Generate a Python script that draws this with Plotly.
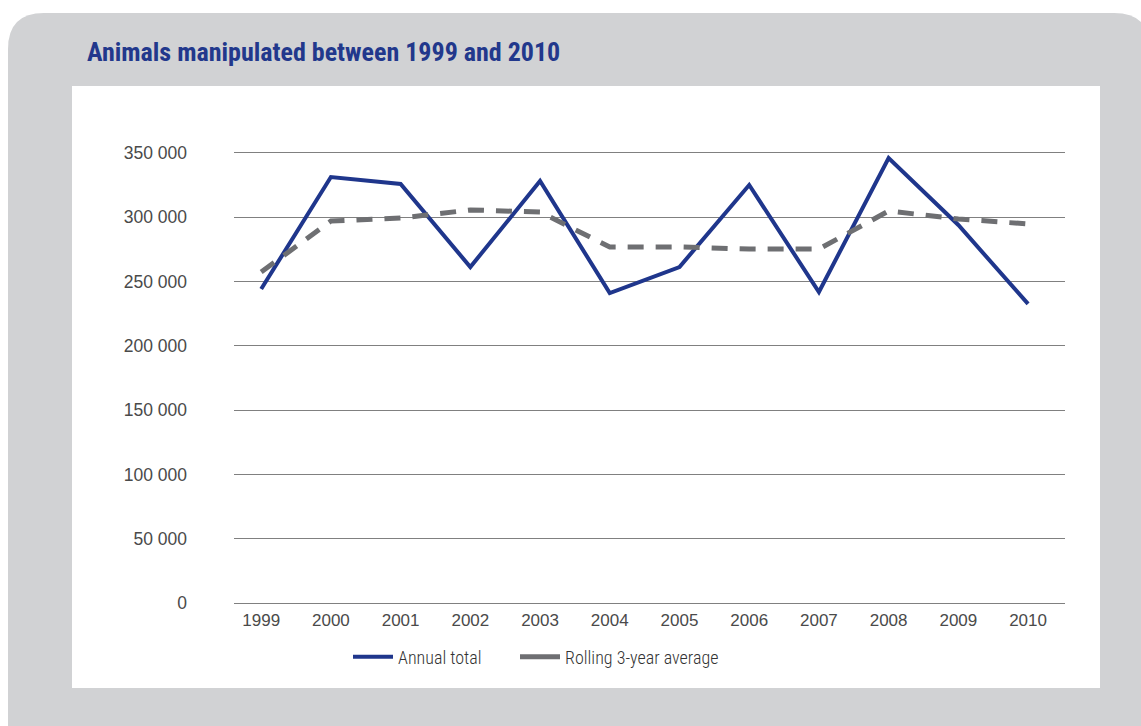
import plotly.graph_objects as go

years = ["1999", "2000", "2001", "2002", "2003", "2004", "2005", "2006", "2007", "2008", "2009", "2010"]
annual_total = [244200, 331300, 325900, 261300, 328200, 241100, 261300, 325100, 241900, 346100, 294000, 232600]
rolling_avg = [257400, 297100, 299400, 305700, 304100, 276900, 276900, 275300, 275300, 304900, 298700, 294800]
y_ticks = [0, 50000, 100000, 150000, 200000, 250000, 300000, 350000]
y_tick_text = ["0", "50 000", "100 000", "150 000", "200 000", "250 000", "300 000", "350 000"]

W, H = 1141, 726
BLUE = "#1f368c"
GREY = "#6e6f72"


def px(x):
    return x / W


def py(y):
    return 1 - y / H


fig = go.Figure()
fig.add_trace(go.Scatter(
    x=list(range(len(years))), y=annual_total, name="Annual total", mode="lines",
    line=dict(color=BLUE, width=4), legend="legend"))
fig.add_trace(go.Scatter(
    x=list(range(len(years))), y=rolling_avg, name="Rolling 3-year average", mode="lines",
    line=dict(color=GREY, width=5, dash="16px,12px"), showlegend=False))
# legend entry drawn solid, as in the original
fig.add_trace(go.Scatter(
    x=[None], y=[None], name="Rolling 3-year average", mode="lines",
    line=dict(color=GREY, width=5), legend="legend2", hoverinfo="skip"))

# rounded grey panel
r = 36
x0, y0, x1, y1 = 8, 13, 1150, 740
path = (f"M {px(x0)},{py(y0 + r)} "
        f"Q {px(x0)},{py(y0)} {px(x0 + r)},{py(y0)} "
        f"L {px(x1 - r)},{py(y0)} "
        f"Q {px(x1)},{py(y0)} {px(x1)},{py(y0 + r)} "
        f"L {px(x1)},{py(y1)} L {px(x0)},{py(y1)} Z")
shapes = [
    dict(type="path", xref="paper", yref="paper", path=path,
         fillcolor="#d1d2d4", line=dict(width=0), layer="below"),
    dict(type="rect", xref="paper", yref="paper", x0=px(72), x1=px(1100), y0=py(688), y1=py(86),
         fillcolor="#ffffff", line=dict(width=0), layer="below"),
]

legend_font = dict(family="Roboto Condensed, DejaVu Sans Condensed, sans-serif", size=18, color="#333333",
                   weight=300)

fig.update_layout(
    width=W, height=H,
    margin=dict(l=0, r=0, t=0, b=0),
    paper_bgcolor="#ffffff",
    plot_bgcolor="rgba(0,0,0,0)",
    shapes=shapes,
    showlegend=True,
    legend=dict(orientation="h", x=px(348), xanchor="left", y=py(657), yanchor="middle",
                font=legend_font, bgcolor="rgba(0,0,0,0)", itemwidth=40),
    legend2=dict(orientation="h", x=px(515), xanchor="left", y=py(657), yanchor="middle",
                 font=legend_font, bgcolor="rgba(0,0,0,0)", itemwidth=40),
    annotations=[dict(text="<b>Animals manipulated between 1999 and 2010</b>", xref="paper", yref="paper",
                      x=px(85), y=py(52), xanchor="left", yanchor="middle", showarrow=False,
                      font=dict(family="Roboto Condensed, DejaVu Sans Condensed, sans-serif",
                                size=26, color="#22388c"))],
    xaxis=dict(domain=[px(234), px(1065)], range=[-0.39, 11.53], automargin=False,
               tickmode="array", tickvals=list(range(len(years))), ticktext=years,
               showgrid=False, zeroline=False, showline=True, mirror=True, linecolor="#808080", ticks="",
               ticklabelstandoff=2,
               tickfont=dict(family="Liberation Sans, Arial, sans-serif", size=17, color="#4a4a4a")),
    yaxis=dict(domain=[py(603), py(153)], range=[0, 350000], automargin=False,
               tickmode="array", tickvals=y_ticks, ticktext=y_tick_text,
               showgrid=True, gridcolor="#808080", gridwidth=1, zeroline=False, showline=False,
               ticks="", ticklabelstandoff=46,
               tickfont=dict(family="Liberation Sans, Arial, sans-serif", size=17.5, color="#4a4a4a")),
)

fig.write_html("out.html", config={"displayModeBar": False},
               post_script="document.body.style.margin='0';document.body.style.overflow='hidden';")
